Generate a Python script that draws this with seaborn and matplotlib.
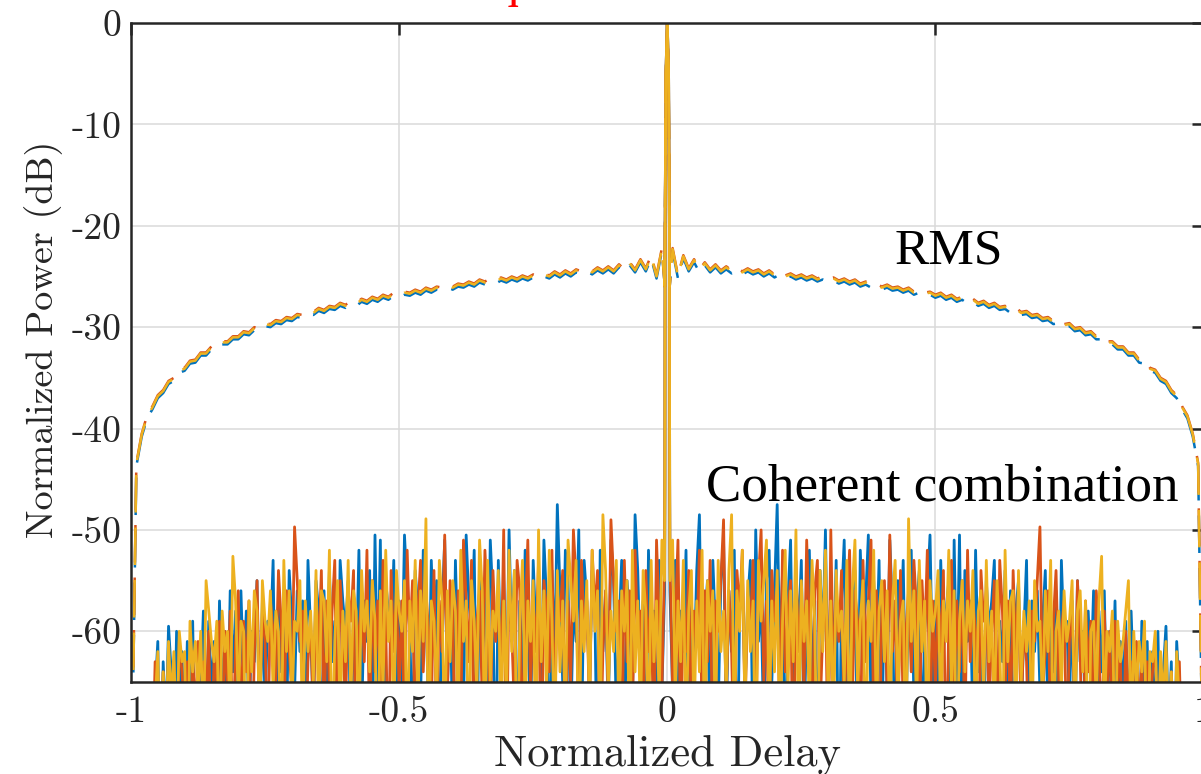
import numpy as np
import matplotlib
matplotlib.use("Agg")
import matplotlib.pyplot as plt
import seaborn as sns

# autocorrelation magnitude is symmetric in delay, so only positive delays are listed
coh_delay = np.round(np.arange(1, 201) * 0.005, 3)   # 0.005 .. 1.000
rms_delay = np.round(np.arange(1, 101) * 0.01, 2)    # 0.01 .. 1.00
lobe_delay = [0.0, 0.0025, 0.004, 0.0045]
coh_lobe = [0.0, -5.0, -20.0, -45.0]
rms_lobe = [0.0, -5.0, -18.0, -26.0]

coh_blue = [
    -56, -66, -53, -71, -58, -62, -52, -75, -57, -64,
    -54, -48.5, -67, -59, -55, -73, -53, -60, -68, -55,
    -51, -69, -56, -62, -52, -77, -58, -54, -66, -57,
    -53, -72, -50, -61, -57, -70, -55, -52, -65, -56,
    -47.5, -63, -54, -76, -57, -51, -68, -55, -60, -53,
    -70, -59, -52, -66, -57, -74, -54, -61, -50, -67,
    -55, -64, -53, -78, -57, -51, -69, -56, -62, -54,
    -73, -52, -60, -57, -50.5, -68, -55, -63, -53, -71,
    -56, -66, -51, -58, -74, -55, -61, -53, -69, -57,
    -52, -67, -58, -54, -72, -60, -56, -50.5, -65, -57,
    -70, -53, -62, -58, -55, -76, -51, -66, -50.5, -72,
    -54, -61, -57, -69, -52, -64, -58, -73, -55, -60,
    -57, -53, -71, -59, -63, -54, -67, -56, -75, -58,
    -55, -68, -60, -53, -72, -57, -62, -56, -66, -59,
    -54, -70, -58, -64, -56, -74, -53, -61, -59, -67,
    -57, -72, -55, -63, -60, -69, -58, -65, -56, -76,
    -58, -64, -56, -70, -60, -67, -57, -73, -61, -66,
    -59, -71, -58, -66, -62, -75, -59, -68, -61, -72,
    -62, -69, -60, -74, -64, -59.5, -70, -63, -78, -61,
    -66, -73, -80, -80, -80, -80, -80, -80, -80, -80,
]
coh_red = [
    -53, -66, -59, -51, -72, -57, -62, -54, -70, -58,
    -61, -52, -69, -56, -63, -53, -75, -57, -60, -55,
    -49, -67, -56, -62, -74, -54, -58, -52, -68, -57,
    -60, -53, -71, -55, -50, -65, -57, -73, -54, -59,
    -56, -69, -52, -64, -58, -55, -77, -53, -62, -57,
    -66, -51, -59, -72, -56, -53, -68, -60, -55, -74,
    -50, -65, -57, -61, -54, -70, -58, -52, -67, -56,
    -59, -73, -53, -63, -57, -51, -69, -56, -76, -58,
    -55, -66, -50.5, -62, -57, -71, -54, -68, -60, -56,
    -64, -53, -58, -72, -55, -61, -52, -70, -57, -66,
    -56, -62, -54, -75, -59, -53, -67, -57, -64, -55,
    -71, -52, -63, -57, -60, -78, -54, -59, -56, -68,
    -60, -55, -73, -53, -58, -66, -57, -70, -54, -62,
    -56, -69, -59, -63, -74, -58, -61, -55, -49.7, -66,
    -62, -56, -71, -59, -54, -65, -60, -57, -72, -61,
    -58, -68, -55, -62, -76, -57, -64, -59, -70, -56,
    -61, -73, -58, -66, -60, -71, -59, -65, -62, -75,
    -60, -67, -63, -72, -61, -69, -62, -78, -63, -68,
    -64, -61, -72, -63, -70, -62, -76, -64, -71, -65,
    -63, -74, -80, -80, -80, -80, -80, -80, -80, -80,
]
coh_yellow = [
    -55, -51, -67, -57, -63, -53, -72, -58, -54, -69,
    -57, -64, -52, -74, -55, -60, -56, -70, -53, -62,
    -58, -66, -54, -48.5, -71, -56, -60, -52, -68, -55,
    -62, -57, -75, -53, -59, -55, -51, -69, -57, -64,
    -54, -72, -59, -52, -66, -56, -63, -50, -73, -55,
    -61, -57, -68, -53, -59, -76, -54, -62, -52, -67,
    -57, -70, -54, -60, -58, -65, -53, -72, -56, -51,
    -66, -59, -55, -74, -57, -61, -52, -69, -58, -55,
    -63, -56, -71, -57, -53, -67, -59, -57, -75, -48.9,
    -61, -56, -68, -53, -62, -57, -73, -55, -60, -58,
    -54, -70, -57, -61, -52, -66, -56, -77, -59, -55,
    -64, -57, -60, -54, -72, -58, -56, -67, -53, -63,
    -58, -69, -55, -61, -74, -52, -63, -57, -56, -70,
    -54, -65, -58, -62, -57, -71, -55, -60, -59, -68,
    -56, -62, -53, -73, -60, -58, -66, -56, -61, -59,
    -55, -70, -58, -56, -64, -57, -76, -60, -59, -67,
    -57, -52.6, -69, -60, -62, -58, -73, -59, -63, -61,
    -58, -55, -71, -60, -66, -61, -64, -59, -77, -62,
    -63, -60, -72, -62, -67, -61, -70, -64, -74, -62,
    -67, -80, -80, -80, -80, -80, -80, -80, -80, -80,
]

rms_blue = [
    -22.5, -25.2, -23.2, -24.5, -23.6, -24.6, -23.9, -24.6, -24.1, -24.7,
    -24.3, -24.7, -24.4, -24.8, -24.5, -24.8, -24.6, -25.0, -24.7, -25.1,
    -24.8, -25.2, -25.0, -25.3, -25.1, -25.4, -25.2, -25.5, -25.3, -25.6,
    -25.4, -25.7, -25.5, -25.8, -25.6, -26.0, -25.8, -26.1, -26.0, -26.3,
    -26.1, -26.4, -26.3, -26.6, -26.4, -26.8, -26.6, -26.9, -26.8, -27.1,
    -26.9, -27.3, -27.1, -27.5, -27.3, -27.7, -27.5, -27.9, -27.7, -28.1,
    -27.9, -28.3, -28.2, -28.6, -28.4, -28.8, -28.7, -29.1, -29.0, -29.4,
    -29.3, -29.7, -29.6, -30.0, -29.9, -30.4, -30.3, -30.8, -30.7, -31.2,
    -31.2, -31.7, -31.7, -32.2, -32.2, -32.8, -32.8, -33.5, -33.6, -34.3,
    -34.5, -35.3, -35.6, -36.5, -37.0, -38.1, -39.0, -40.8, -43.7, -80.0,
]
rms_red = [
    -22.2, -24.9, -22.9, -24.2, -23.3, -24.3, -23.6, -24.3, -23.8, -24.4,
    -24.0, -24.4, -24.1, -24.5, -24.2, -24.5, -24.3, -24.7, -24.4, -24.8,
    -24.5, -24.9, -24.7, -25.0, -24.8, -25.1, -24.9, -25.2, -25.0, -25.3,
    -25.1, -25.4, -25.2, -25.5, -25.3, -25.7, -25.5, -25.8, -25.7, -26.0,
    -25.8, -26.1, -26.0, -26.3, -26.1, -26.5, -26.3, -26.6, -26.5, -26.8,
    -26.6, -27.0, -26.8, -27.2, -27.0, -27.4, -27.2, -27.6, -27.4, -27.8,
    -27.6, -28.0, -27.9, -28.3, -28.1, -28.5, -28.4, -28.8, -28.7, -29.1,
    -29.0, -29.4, -29.3, -29.7, -29.6, -30.1, -30.0, -30.5, -30.4, -30.9,
    -30.9, -31.4, -31.4, -31.9, -31.9, -32.5, -32.5, -33.2, -33.3, -34.0,
    -34.2, -35.0, -35.3, -36.2, -36.7, -37.8, -38.7, -40.5, -43.4, -80.0,
]
rms_yellow = [
    -22.3, -25.0, -23.0, -24.3, -23.4, -24.4, -23.7, -24.4, -23.9, -24.5,
    -24.1, -24.5, -24.2, -24.6, -24.3, -24.6, -24.4, -24.8, -24.5, -24.9,
    -24.6, -25.0, -24.8, -25.1, -24.9, -25.2, -25.0, -25.3, -25.1, -25.4,
    -25.2, -25.5, -25.3, -25.6, -25.4, -25.8, -25.6, -25.9, -25.8, -26.1,
    -25.9, -26.2, -26.1, -26.4, -26.2, -26.6, -26.4, -26.7, -26.6, -26.9,
    -26.7, -27.1, -26.9, -27.3, -27.1, -27.5, -27.3, -27.7, -27.5, -27.9,
    -27.7, -28.1, -28.0, -28.4, -28.2, -28.6, -28.5, -28.9, -28.8, -29.2,
    -29.1, -29.5, -29.4, -29.8, -29.7, -30.2, -30.1, -30.6, -30.5, -31.0,
    -31.0, -31.5, -31.5, -32.0, -32.0, -32.6, -32.6, -33.3, -33.4, -34.1,
    -34.3, -35.1, -35.4, -36.3, -36.8, -37.9, -38.8, -40.6, -43.5, -80.0,
]

x_ticks = [-1, -0.5, 0, 0.5, 1]
x_tick_labels = ["-1", "-0.5", "0", "0.5", "1"]
y_ticks = [0, -10, -20, -30, -40, -50, -60]
y_tick_labels = ["0", "-10", "-20", "-30", "-40", "-50", "-60"]
colors = ["#0072BD", "#D95319", "#EDB120"]
title = "ACF for unique CE-OFDM Waveforms"


def full_curve(lobe, side_x, side_y):
    hx = np.concatenate([lobe_delay, side_x])
    hy = np.concatenate([lobe, side_y])
    return np.concatenate([-hx[:0:-1], hx]), np.concatenate([hy[:0:-1], hy])


sns.set_style("white")
plt.rcParams["axes.formatter.use_mathtext"] = True

fig = plt.figure(figsize=(12.01, 7.74), dpi=100)
ax = fig.add_axes([131 / 1201, 1 - 682 / 774, 1072.5 / 1201, 659 / 774])

dash = (15, 6)
offsets = [1.0, 20.0, 0.0]
for coh, rms, c, off in zip([coh_blue, coh_red, coh_yellow],
                            [rms_blue, rms_red, rms_yellow], colors, offsets):
    x, y = full_curve(coh_lobe, coh_delay, coh)
    sns.lineplot(x=x, y=y, color=c, linewidth=2.0, estimator=None,
                 sort=False, ax=ax)
    x, y = full_curve(rms_lobe, rms_delay, rms)
    sns.lineplot(x=x, y=y, color=c, linewidth=1.8, estimator=None,
                 sort=False, linestyle=(off, dash), ax=ax)

ax.set_xlim(-1, 1)
ax.set_ylim(-65, 0)
ax.set_xticks(x_ticks, labels=x_tick_labels)
ax.set_yticks(y_ticks, labels=y_tick_labels)
for lab in ax.get_xticklabels() + ax.get_yticklabels():
    lab.set_fontfamily("cmr10")
    lab.set_fontsize(27)
    lab.set_color("#262626")
ax.tick_params(direction="in", length=8.5, width=1.8, color="#262626",
               top=True, right=True)
ax.tick_params(axis="x", pad=10)
ax.tick_params(axis="y", pad=7)
ax.grid(True, color="#dadada", linewidth=1.1)
ax.set_axisbelow(True)
for sp in ax.spines.values():
    sp.set_linewidth(1.8)
    sp.set_color("#262626")

ax.set_xlabel("Normalized Delay", fontfamily="cmr10", fontsize=32,
              color="#262626")
ax.set_ylabel("Normalized Power (dB)", fontfamily="cmr10", fontsize=27.5,
              color="#262626")
ax.xaxis.set_label_coords(0.5, -0.08)
ax.yaxis.set_label_coords(-0.063, 0.52)

ax.text(0.424, -23.7, "RMS", fontfamily="Liberation Serif", fontsize=37,
        color="black", ha="left", va="baseline")
ax.text(0.073, -47.1, "Coherent combination", fontfamily="Liberation Serif",
        fontsize=38.2, color="black", ha="left", va="baseline")

# title sits almost entirely above the top edge, as in the cropped original
fig.text(0.539, 1 + 4 / 774, title, color="red", fontsize=36,
         fontfamily="Liberation Serif", ha="center", va="baseline")

fig.savefig("out.png", dpi=100)
